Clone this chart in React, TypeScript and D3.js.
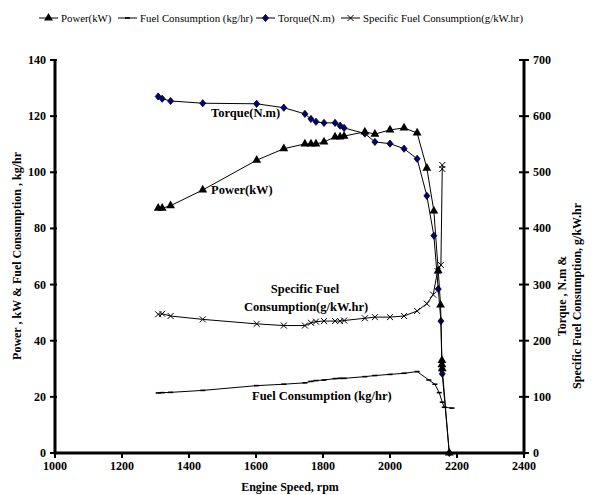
import * as React from 'react';
import * as d3 from 'd3';

// readings
const powerRpm = [1308, 1320, 1345, 1441, 1602, 1683, 1746, 1764, 1779, 1803, 1836, 1851, 1863, 1925, 1955, 2000, 2042, 2081, 2110, 2131, 2144, 2151, 2155, 2155, 2156, 2177];
const powerKw = [87.2, 87.2, 88.1, 93.7, 104.3, 108.4, 110.1, 110.1, 110.1, 110.8, 112.6, 112.6, 112.9, 114.4, 113.6, 115.1, 115.8, 114.0, 101.5, 86.2, 64.9, 52.7, 33.0, 31.5, 30.0, 0];

const fuelRpm = [1308, 1320, 1345, 1441, 1602, 1683, 1746, 1764, 1779, 1803, 1836, 1851, 1863, 1925, 1955, 2000, 2042, 2081, 2116, 2134, 2147, 2156, 2162, 2185];
const fuelKgHr = [21.4, 21.5, 21.6, 22.3, 24.0, 24.5, 25.0, 25.5, 25.8, 26.0, 26.5, 26.6, 26.6, 27.2, 27.6, 28.0, 28.4, 29.0, 26.0, 24.5, 21.5, 18.1, 16.3, 16.0];

const torqueRpm = [1308, 1320, 1345, 1441, 1602, 1683, 1746, 1764, 1779, 1803, 1836, 1851, 1863, 1925, 1955, 2000, 2042, 2081, 2110, 2131, 2144, 2152, 2155, 2156, 2177];
const torqueNm = [635, 631, 627, 623, 622, 615, 604, 595, 590, 588, 588, 583, 579, 569, 554, 551, 542, 524, 458, 387, 292, 235, 148, 141, 0];

const sfcRpm = [1308, 1320, 1345, 1441, 1602, 1683, 1746, 1764, 1779, 1803, 1836, 1851, 1863, 1925, 1955, 2000, 2042, 2081, 2110, 2129, 2142, 2152, 2156, 2156];
const sfcGkWh = [247, 248, 244, 238, 230, 227, 227, 232, 234, 235, 235, 235, 236, 240, 242, 242, 244, 253, 266, 282, 324, 335, 506, 513];

const xTicks = [1000, 1200, 1400, 1600, 1800, 2000, 2200, 2400];
const leftTicks = [0, 20, 40, 60, 80, 100, 120, 140];
const rightTicks = [0, 100, 200, 300, 400, 500, 600, 700];

const legendItems = ['Power(kW)', 'Fuel Consumption (kg/hr)', 'Torque(N.m)', 'Specific Fuel Consumption(g/kW.hr)'];

const FONT = "'Liberation Serif', 'Times New Roman', 'DejaVu Serif', serif";

type Pt = { x: number; y: number };

function Marker({ kind, x, y }: { kind: string; x: number; y: number }) {
  if (kind === 'tri') {
    return <path transform={`translate(${x},${y})`} d={d3.symbol(d3.symbolTriangle, 34)() || ''} fill="#000" />;
  }
  if (kind === 'dia') {
    return <path transform={`translate(${x},${y})`} d="M0,-3.6L3,0L0,3.6L-3,0Z" fill="#000080" stroke="#000" strokeWidth={0.8} />;
  }
  if (kind === 'x') {
    return <path transform={`translate(${x},${y})`} d="M-3,-3L3,3M-3,3L3,-3" stroke="#000" strokeWidth={1} fill="none" />;
  }
  return <line x1={x - 2.5} x2={x + 2.5} y1={y} y2={y} stroke="#000" strokeWidth={1.6} />;
}

export default function App() {
  const width = 598;
  const height = 495;

  const x = d3.scaleLinear().domain([1000, 2400]).range([55, 524]);
  const yL = d3.scaleLinear().domain([0, 140]).range([453, 60]);
  const yR = d3.scaleLinear().domain([0, 700]).range([453, 60]);

  const line = d3.line<Pt>().x((d) => d.x).y((d) => d.y);

  const series = [
    { kind: 'dia', pts: torqueRpm.map((r, i) => ({ x: x(r), y: yR(torqueNm[i]) })) },
    { kind: 'tri', pts: powerRpm.map((r, i) => ({ x: x(r), y: yL(powerKw[i]) })) },
    { kind: 'x', pts: sfcRpm.map((r, i) => ({ x: x(r), y: yR(sfcGkWh[i]) })) },
    { kind: 'dash', pts: fuelRpm.map((r, i) => ({ x: x(r), y: yL(fuelKgHr[i]) })) },
  ];

  const legendKinds = ['tri', 'dash', 'dia', 'x'];
  const legendX = [39, 118, 256, 341];

  return (
    <div style={{ position: 'absolute', left: 0, top: 0 }}>
      <svg width={width} height={height} style={{ display: 'block', background: '#fff', fontFamily: FONT }}>
        {/* legend */}
        {legendItems.map((name, i) => (
          <g key={name}>
            <line x1={legendX[i]} x2={legendX[i] + 19} y1={18} y2={18} stroke="#000" strokeWidth={1} />
            <Marker kind={legendKinds[i]} x={legendX[i] + 9.5} y={18} />
            <text x={legendX[i] + 22} y={22} fontSize={10.8}>{name}</text>
          </g>
        ))}

        {/* series */}
        {series.map((s) => (
          <g key={s.kind}>
            <path d={line(s.pts) || ''} fill="none" stroke="#000" strokeWidth={1} />
            {s.pts.map((p, i) => <Marker key={i} kind={s.kind} x={p.x} y={p.y} />)}
          </g>
        ))}

        {/* axes */}
        <line x1={55} x2={524} y1={453} y2={453} stroke="#000" strokeWidth={3} />
        <line x1={55} x2={55} y1={59} y2={454.5} stroke="#000" strokeWidth={3} />
        <line x1={524} x2={524} y1={59} y2={454.5} stroke="#000" strokeWidth={3} />
        {xTicks.map((t) => (
          <g key={t}>
            <line x1={x(t)} x2={x(t)} y1={453} y2={458} stroke="#000" strokeWidth={2} />
            <text x={x(t)} y={470} textAnchor="middle" fontSize={12} fontWeight="bold">{t}</text>
          </g>
        ))}
        {leftTicks.map((t) => (
          <g key={t}>
            <line x1={50} x2={57} y1={yL(t)} y2={yL(t)} stroke="#000" strokeWidth={2} />
            <text x={46} y={yL(t) + 4} textAnchor="end" fontSize={12} fontWeight="bold">{t}</text>
          </g>
        ))}
        {rightTicks.map((t) => (
          <g key={t}>
            <line x1={519} x2={529} y1={yR(t)} y2={yR(t)} stroke="#000" strokeWidth={2} />
            <text x={533} y={yR(t) + 4} textAnchor="start" fontSize={12} fontWeight="bold">{t}</text>
          </g>
        ))}

        {/* axis titles */}
        <text x={290} y={491} textAnchor="middle" fontSize={12} fontWeight="bold">Engine Speed, rpm</text>
        <text transform="translate(21,256) rotate(-90)" textAnchor="middle" fontSize={12} fontWeight="bold">Power , kW &amp; Fuel Consumption , kg/hr</text>
        <text transform="translate(566,296) rotate(-90)" textAnchor="middle" fontSize={12} fontWeight="bold">Torque , N.m &amp;</text>
        <text transform="translate(581,296) rotate(-90)" textAnchor="middle" fontSize={12} fontWeight="bold">Specific Fuel Consumption,  g/kW.hr</text>

        {/* annotations */}
        <g fontSize={12.5} fontWeight="bold">
          <text x={211} y={117}>Torque(N.m)</text>
          <text x={211} y={194}>Power(kW)</text>
          <text x={305} y={293} textAnchor="middle">Specific Fuel</text>
          <text x={306} y={311} textAnchor="middle">Consumption(g/kW.hr)</text>
          <text x={252} y={400}>Fuel Consumption (kg/hr)</text>
        </g>
      </svg>
    </div>
  );
}
